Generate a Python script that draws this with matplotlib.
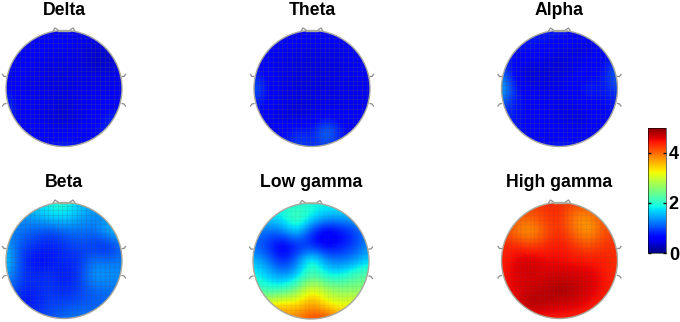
import matplotlib
matplotlib.use('Agg')
import matplotlib.pyplot as plt
import numpy as np
from matplotlib.patches import Circle

plt.rcParams['font.family'] = ['Liberation Sans', 'DejaVu Sans']

W, H = 680, 322

titles = ['Delta', 'Theta', 'Alpha', 'Beta', 'Low gamma', 'High gamma']
centers = [(64, 88.5), (312, 88.5), (559.5, 88.5), (64, 260.5), (311, 261), (559.5, 260.5)]
cbar_ticks = [0, 2, 4]

# rows go top to bottom of the head, first/last row and column sit on the rim
delta = [[.62, .62, .62, .60, .60, .58, .55, .55, .55],
         [.62, .60, .58, .56, .54, .48, .42, .45, .50],
         [.62, .58, .54, .50, .50, .48, .34, .30, .50],
         [.62, .54, .50, .44, .42, .48, .45, .46, .55],
         [.65, .52, .52, .50, .45, .52, .52, .52, .58],
         [.95, .56, .54, .50, .40, .52, .52, .54, .60],
         [.85, .60, .52, .48, .34, .50, .56, .75, .85],
         [.70, .62, .56, .56, .50, .56, .60, .90, .80],
         [.65, .65, .68, .72, .85, .75, .65, .65, .65]]
theta = [[.62, .62, .60, .60, .60, .62, .62, .62, .62],
         [.62, .60, .56, .52, .50, .50, .52, .56, .60],
         [.60, .54, .48, .46, .44, .46, .48, .54, .60],
         [.78, .56, .50, .42, .42, .46, .48, .52, .58],
         [1.15, .62, .50, .46, .46, .48, .50, .50, .55],
         [.85, .58, .48, .44, .46, .48, .50, .48, .55],
         [.66, .54, .46, .38, .50, .62, .55, .55, .58],
         [.60, .56, .60, .90, .70, 1.45, .70, .60, .58],
         [.58, .58, .70, 1.0, .80, .90, .70, .60, .58]]
alpha = [[.78, .78, .78, .78, .78, .72, .72, .68, .68],
         [.78, .75, .70, .68, .55, .45, .42, .58, .68],
         [.85, .62, .55, .50, .40, .50, .55, .62, .80],
         [1.2, .48, .35, .42, .42, .52, .58, .62, 1.35],
         [1.8, .68, .55, .52, .55, .60, .85, .72, .95],
         [1.1, .72, .60, .55, .50, .48, .62, .62, .78],
         [.85, .70, .62, .55, .52, .42, .50, .62, .72],
         [.78, .72, .62, .50, .55, .50, .55, .66, .72],
         [.78, .75, .72, .72, .78, .78, .75, .72, .72]]
beta = [[1.4, 1.5, 1.7, 1.95, 2.0, 1.7, 1.45, 1.4, 1.35],
        [1.35, 1.35, 1.5, 1.7, 1.75, 1.5, 1.3, 1.35, 1.65],
        [1.35, 1.2, 1.05, .95, 1.1, 1.2, 1.15, 1.55, 1.75],
        [1.5, 1.0, .85, .75, .85, 1.0, .85, .70, 1.15],
        [1.75, .90, .62, .70, .85, .80, 1.25, 1.15, 1.25],
        [1.5, .95, .80, .90, .70, .90, 1.45, 1.4, 1.35],
        [1.25, .80, .80, .90, .80, .90, 1.15, 1.15, 1.25],
        [1.15, .65, .75, .95, .95, 1.05, 1.05, 1.15, 1.25],
        [1.15, .90, .90, 1.05, 1.2, 1.3, 1.25, 1.25, 1.25]]
low_gamma = [[1.8, 1.8, 1.9, 1.9, 1.9, 1.9, 1.9, 1.8, 1.8],
             [1.65, 1.75, 1.85, 2.35, 1.9, 1.55, 1.55, 1.6, 1.7],
             [1.3, 1.1, 1.25, 1.8, .80, .40, .60, .85, 1.35],
             [1.1, .85, .35, .70, .75, .50, .70, .95, 1.35],
             [1.6, 1.25, .70, 1.2, 2.2, 1.35, 1.2, 1.35, 1.7],
             [1.9, 1.65, 1.3, 1.55, 2.2, 1.8, 1.8, 2.2, 2.35],
             [2.2, 1.95, 2.0, 2.5, 3.3, 2.8, 2.55, 2.6, 2.5],
             [3.0, 3.2, 3.55, 3.35, 3.75, 3.3, 3.1, 3.2, 3.0],
             [4.0, 4.0, 3.8, 3.9, 4.2, 4.3, 3.8, 3.7, 3.5]]
high_gamma = [[4.2, 4.2, 4.2, 4.3, 4.35, 4.25, 4.2, 4.2, 4.2],
              [4.2, 4.1, 4.05, 4.25, 4.35, 3.8, 3.75, 4.1, 4.2],
              [4.2, 3.85, 3.6, 4.05, 4.35, 3.95, 3.6, 4.1, 4.2],
              [4.35, 4.4, 4.2, 4.35, 4.45, 4.3, 4.1, 4.3, 4.3],
              [4.35, 4.55, 4.7, 4.5, 4.5, 4.45, 4.45, 4.4, 4.3],
              [4.4, 4.6, 4.6, 4.6, 4.65, 4.6, 4.6, 4.45, 4.3],
              [4.4, 4.55, 4.65, 4.7, 4.85, 4.75, 4.6, 4.5, 4.3],
              [4.3, 4.55, 4.85, 4.75, 4.65, 4.6, 4.5, 4.35, 4.2],
              [4.25, 4.3, 4.35, 4.35, 4.35, 4.35, 4.3, 4.25, 4.2]]
maps = [delta, theta, alpha, beta, low_gamma, high_gamma]
mesh_alpha = [.25, .25, .25, .16, .05, .09]

R = 58  # head radius, px
HALF = R / 8  # half a cell, so outer grid nodes land on the rim
EDGE = '#a8a89c'


def ax_px(x0, y0, x1, y1):
    # pixel box (top-left origin) to figure axes
    return fig.add_axes([x0 / W, 1 - y1 / H, (x1 - x0) / W, (y1 - y0) / H])


fig = plt.figure(figsize=(W / 100, H / 100), dpi=100)

for name, (cx, cy), vals, ma in zip(titles, centers, maps, mesh_alpha):
    ax = ax_px(cx - R - 8, cy - R - 8, cx + R + 8, cy + R + 8)
    ax.axis('off')
    im = ax.imshow(vals, cmap='jet', vmin=0, vmax=5, interpolation='bicubic',
                   extent=(-R - HALF, R + HALF, -R - HALF, R + HALF), aspect='equal', zorder=1)
    ax.set_xlim(-R - 8, R + 8)
    ax.set_ylim(-R - 8, R + 8)
    head = Circle((0, 0), R, transform=ax.transData, facecolor='none',
                  edgecolor=EDGE, lw=1.0, zorder=4)
    ax.add_patch(head)
    im.set_clip_path(head)
    # faint mesh over the surface
    for g in np.arange(-R, R, 4.7):
        for line in (ax.axvline(g, color='#505070', lw=0.8, alpha=ma, zorder=2),
                     ax.axhline(g, color='#505070', lw=0.8, alpha=ma, zorder=2)):
            line.set_clip_path(head)
    # nose and ears
    ax.plot([-6, 6], [58, 58], color=EDGE, lw=1.0, zorder=3)
    for s in (-1, 1):
        ax.plot([s * 6, s * 9, s * 11], [58.5, 60.5, 57.5], color='#909090', lw=0.9, zorder=3)
        ax.plot([s * 58, s * 60, s * 61.5], [12, 12, 14], color='#8c8c8c', lw=0.9, zorder=3)
        ax.plot([s * 58, s * 60, s * 61.5], [-15, -15.5, -17.5], color='#8c8c8c', lw=0.9, zorder=3)
    fig.text(cx / W, 1 - (cy - 78.3) / H, name, ha='center', va='center',
             fontsize=12.7, fontweight='bold', color='black')

# colour bar
cax = ax_px(648, 127.5, 666, 253)
norm = matplotlib.colors.Normalize(0, 5)
cb = fig.colorbar(matplotlib.cm.ScalarMappable(norm=norm, cmap='jet'), cax=cax, ticks=cbar_ticks)
cb.outline.set_linewidth(0.4)
cb.ax.tick_params(axis='y', direction='in', length=2, width=1, left=True, right=True, pad=2, labelsize=13)
for t in cb.ax.get_yticklabels():
    t.set_fontweight('bold')

fig.savefig('out.png', dpi=100)
